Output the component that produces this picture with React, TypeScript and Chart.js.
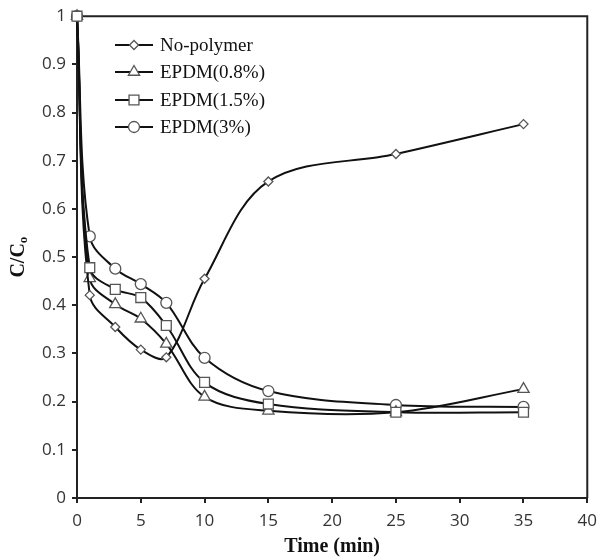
import React, { useEffect, useRef } from "react";
import { Chart, registerables } from "chart.js";

Chart.register(...registerables);

const times = [0, 1, 3, 5, 7, 10, 15, 25, 35];
const noPolymer = [1, 0.421, 0.355, 0.308, 0.292, 0.455, 0.657, 0.714, 0.776];
const epdm08 = [1, 0.456, 0.402, 0.372, 0.32, 0.21, 0.181, 0.178, 0.226];
const epdm15 = [1, 0.478, 0.433, 0.416, 0.358, 0.24, 0.195, 0.178, 0.178];
const epdm3 = [1, 0.543, 0.476, 0.444, 0.405, 0.291, 0.222, 0.193, 0.189];

const seriesNames = ["No-polymer", "EPDM(0.8%)", "EPDM(1.5%)", "EPDM(3%)"];
const seriesValues = [noPolymer, epdm08, epdm15, epdm3];
const pointStyles = ["rectRot", "triangle", "rect", "circle"];
const pointRadii = [4.5, 6.5, 7, 5.5];
const drawOrder = [2, 3, 0, 4];

const xTitle = "Time (min)";
const yTitle = "C/C";
const ySub = "o";

const LINE = "#111111";
const MARK = "#555555";

function drawMarker(ctx: CanvasRenderingContext2D, style: string, x: number, y: number, r: number) {
  ctx.beginPath();
  if (style === "circle") {
    ctx.arc(x, y, r, 0, Math.PI * 2);
  } else if (style === "rect") {
    const s = Math.SQRT1_2 * r;
    ctx.rect(x - s, y - s, 2 * s, 2 * s);
  } else if (style === "rectRot") {
    ctx.moveTo(x, y - r);
    ctx.lineTo(x + r, y);
    ctx.lineTo(x, y + r);
    ctx.lineTo(x - r, y);
    ctx.closePath();
  } else if (style === "triangle") {
    ctx.moveTo(x, y - r);
    ctx.lineTo(x + Math.cos(Math.PI / 6) * r, y + Math.sin(Math.PI / 6) * r);
    ctx.lineTo(x - Math.cos(Math.PI / 6) * r, y + Math.sin(Math.PI / 6) * r);
    ctx.closePath();
  }
  ctx.fillStyle = "#ffffff";
  ctx.fill();
  ctx.strokeStyle = MARK;
  ctx.lineWidth = 1.3;
  ctx.stroke();
}

const framePlugin = {
  id: "framePlugin",
  beforeDatasetsDraw(chart: any) {
    const { ctx, chartArea } = chart;
    const { left, right, top, bottom } = chartArea;
    ctx.save();
    ctx.strokeStyle = "#222";
    ctx.lineWidth = 2;
    ctx.beginPath();
    ctx.moveTo(left, top);
    ctx.lineTo(right, top);
    ctx.lineTo(right, bottom);
    ctx.stroke();
    ctx.restore();
  },
  afterDraw(chart: any) {
    const { ctx, chartArea } = chart;
    const { left, right, top, bottom } = chartArea;
    ctx.save();
    // legend
    const rows = [45, 72, 100, 127];
    seriesNames.forEach((name, i) => {
      const y = rows[i];
      ctx.strokeStyle = LINE;
      ctx.lineWidth = 2;
      ctx.beginPath();
      ctx.moveTo(115, y);
      ctx.lineTo(153, y);
      ctx.stroke();
      drawMarker(ctx, pointStyles[i], 134, y, pointRadii[i]);
      ctx.fillStyle = "#111";
      ctx.font = "19px 'Liberation Serif', serif";
      ctx.textBaseline = "middle";
      ctx.textAlign = "left";
      ctx.fillText(name, 160, y + 1);
    });

    // axis titles
    ctx.fillStyle = "#111";
    ctx.font = "bold 20px 'Liberation Serif', serif";
    ctx.textAlign = "center";
    ctx.textBaseline = "middle";
    ctx.fillText(xTitle, (left + right) / 2, 547);

    ctx.translate(19, (top + bottom) / 2);
    ctx.rotate(-Math.PI / 2);
    ctx.font = "bold 20px 'Liberation Serif', serif";
    const w1 = ctx.measureText(yTitle).width;
    ctx.font = "bold 13px 'Liberation Serif', serif";
    const w2 = ctx.measureText(ySub).width;
    const total = w1 + w2;
    ctx.textAlign = "left";
    ctx.font = "bold 20px 'Liberation Serif', serif";
    ctx.fillText(yTitle, -total / 2, 0);
    ctx.font = "bold 13px 'Liberation Serif', serif";
    ctx.fillText(ySub, -total / 2 + w1, 5);
    ctx.restore();
  },
};

export default function App() {
  const ref = useRef<HTMLCanvasElement | null>(null);

  useEffect(() => {
    if (!ref.current) return;
    const datasets = seriesNames.map((name, i) => ({
      label: name,
      data: times.map((t, j) => ({ x: t, y: seriesValues[i][j] })),
      order: drawOrder[i],
      borderColor: LINE,
      borderWidth: 2,
      tension: 0.35,
      clip: false,
      pointStyle: pointStyles[i],
      pointRadius: pointRadii[i],
      pointHoverRadius: pointRadii[i],
      pointBackgroundColor: "#ffffff",
      pointBorderColor: MARK,
      pointBorderWidth: 1.3,
      fill: false,
    }));

    const tickFont = { family: "'Open Sans', sans-serif", size: 17 };

    const chart = new Chart(ref.current, {
      type: "line",
      data: { datasets },
      plugins: [framePlugin],
      options: {
        animation: false,
        responsive: false,
        maintainAspectRatio: false,
        layout: { padding: { top: 16, right: 11, left: 0, bottom: 0 } },
        plugins: {
          legend: { display: false },
          tooltip: { enabled: false },
        },
        scales: {
          x: {
            type: "linear",
            min: 0,
            max: 40,
            ticks: { stepSize: 5, color: "#333", font: tickFont, padding: 8, maxRotation: 0 },
            grid: { display: true, drawOnChartArea: false, drawTicks: true, tickLength: 5, color: "#222", lineWidth: 2 },
            border: { display: true, color: "#222", width: 2 },
            afterFit: (s: any) => {
              s.height = 62;
            },
          },
          y: {
            type: "linear",
            min: 0,
            max: 1,
            ticks: {
              stepSize: 0.1,
              color: "#333",
              font: tickFont,
              padding: 6,
              callback: (v: any) => String(Math.round(Number(v) * 10) / 10),
            },
            grid: { display: true, drawOnChartArea: false, drawTicks: true, tickLength: 5, color: "#222", lineWidth: 2 },
            border: { display: true, color: "#222", width: 2 },
            afterFit: (s: any) => {
              s.width = 77;
            },
          },
        },
      },
    } as any);
    return () => chart.destroy();
  }, []);

  return (
    <div style={{ position: "fixed", left: 0, top: 0, width: 605, height: 560, background: "#fff" }}>
      <canvas ref={ref} width={605} height={560} style={{ display: "block" }} />
    </div>
  );
}
